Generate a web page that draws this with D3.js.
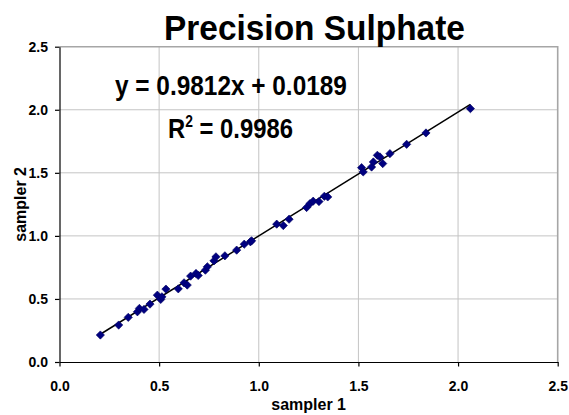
<!DOCTYPE html>
<html>
<head>
<meta charset="utf-8">
<script src="https://cdn.jsdelivr.net/npm/d3@7"></script>
<style>
  body { margin: 0; background: #fff; }
  svg { display: block; }
  text { font-family: "Liberation Sans", Arial, Helvetica, sans-serif; font-weight: bold; fill: #000; }
</style>
</head>
<body>
<svg id="chart" width="569" height="415"></svg>
<script>
// Paired sulphate readings from the two samplers
const sampler1 = [0.205, 0.297, 0.345, 0.391, 0.401, 0.424, 0.454, 0.491, 0.508, 0.514,
                  0.534, 0.596, 0.625, 0.641, 0.658, 0.685, 0.696, 0.732, 0.742, 0.775,
                  0.785, 0.830, 0.889, 0.927, 0.958, 0.964, 1.090, 1.123, 1.152, 1.240,
                  1.257, 1.273, 1.302, 1.329, 1.346, 1.516, 1.524, 1.566, 1.575, 1.595,
                  1.608, 1.622, 1.658, 1.742, 1.839, 2.062];
const sampler2 = [0.214, 0.293, 0.354, 0.398, 0.425, 0.417, 0.459, 0.530, 0.496, 0.517,
                  0.578, 0.580, 0.628, 0.610, 0.681, 0.702, 0.686, 0.728, 0.755, 0.802,
                  0.834, 0.842, 0.887, 0.934, 0.953, 0.961, 1.093, 1.082, 1.132, 1.225,
                  1.256, 1.275, 1.272, 1.314, 1.309, 1.541, 1.507, 1.546, 1.586, 1.639,
                  1.626, 1.573, 1.652, 1.726, 1.816, 2.009];

// Linear fit reported for the comparison
const slope = 0.9812;
const intercept = 0.0189;
const rSquared = 0.9986;

const tickValues = [0, 0.5, 1.0, 1.5, 2.0, 2.5];
const chartTitle = "Precision Sulphate";
const xTitle = "sampler 1";
const yTitle = "sampler 2";

const svg = d3.select("#chart");
svg.append("rect").attr("width", 569).attr("height", 415).attr("fill", "#fff");

const plot = { left: 59.5, right: 557.7, top: 46.7, bottom: 362 };
const x = d3.scaleLinear().domain([0, 2.5]).range([plot.left, plot.right]);
const y = d3.scaleLinear().domain([0, 2.5]).range([plot.bottom, plot.top]);
const fmt = d3.format(".1f");

// Gridlines
const grid = svg.append("g");
grid.selectAll("line.h").data(tickValues.slice(1, -1)).join("line")
  .attr("x1", plot.left).attr("x2", plot.right)
  .attr("y1", d => y(d)).attr("y2", d => y(d))
  .attr("stroke", "#c4c4c4").attr("stroke-width", 1);
grid.selectAll("line.v").data(tickValues.slice(1, -1)).join("line")
  .attr("x1", d => x(d)).attr("x2", d => x(d))
  .attr("y1", plot.top).attr("y2", plot.bottom)
  .attr("stroke", "#c4c4c4").attr("stroke-width", 1);

// Top and right frame of the plot area
svg.append("path")
  .attr("d", `M${plot.left},${y(2.5)}H${x(2.5)}V${plot.bottom}`)
  .attr("fill", "none").attr("stroke", "#a6a6a6").attr("stroke-width", 1.6);

// Axes
const yAxis = svg.append("g").attr("transform", `translate(${plot.left},0)`)
  .call(d3.axisLeft(y).tickValues(tickValues).tickFormat(fmt).tickSize(4.5).tickSizeOuter(0).tickPadding(7));
const xAxis = svg.append("g").attr("transform", `translate(0,${plot.bottom})`)
  .call(d3.axisBottom(x).tickValues(tickValues).tickFormat(fmt).tickSize(4.5).tickSizeOuter(0).tickPadding(15));
[yAxis, xAxis].forEach(g => {
  g.select(".domain").attr("stroke", "#000").attr("stroke-width", 1.2);
  g.selectAll(".tick line").attr("stroke", "#000").attr("stroke-width", 1.2);
  g.selectAll(".tick text")
    .style("font-family", "'Liberation Sans', Arial, sans-serif")
    .style("font-weight", "bold").style("font-size", "14px").attr("fill", "#000");
});

// Trendline across the observed range
const xr = d3.extent(sampler1);
svg.append("line")
  .attr("x1", x(xr[0])).attr("y1", y(slope * xr[0] + intercept))
  .attr("x2", x(xr[1])).attr("y2", y(slope * xr[1] + intercept))
  .attr("stroke", "#000").attr("stroke-width", 1.5);

// Diamond markers
const diamond = d3.symbol().type(d3.symbolSquare).size(34);
svg.append("g").selectAll("path").data(sampler1.map((v, i) => [v, sampler2[i]])).join("path")
  .attr("d", diamond)
  .attr("transform", d => `translate(${x(d[0])},${y(d[1])}) rotate(45)`)
  .attr("fill", "#000080").attr("stroke", "#000060").attr("stroke-width", 0.6);

// Fit a text element horizontally between two x positions
function fitText(sel, x0, x1, baseline) {
  const w = sel.node().getBBox().width;
  sel.attr("transform", `translate(${x0},${baseline}) scale(${(x1 - x0) / w},1)`);
}

// Title
const title = svg.append("text").attr("x", 0).attr("y", 0)
  .style("font-size", "35px").text(chartTitle);
fitText(title, 164, 465, 39.5);

// Regression equation and R²
const eq = svg.append("text").attr("x", 0).attr("y", 0)
  .style("font-size", "27.5px")
  .text(`y = ${slope}x + ${intercept}`);
fitText(eq, 115, 347, 95);

const r2 = svg.append("text").attr("x", 0).attr("y", 0).style("font-size", "27.5px");
r2.append("tspan").text("R");
r2.append("tspan").attr("dy", -11.6).style("font-size", "16px").text("2");
r2.append("tspan").attr("dy", 11.6).text(` = ${rSquared}`);
fitText(r2, 168, 293, 138.3);

// Axis titles
svg.append("text")
  .attr("x", (plot.left + plot.right) / 2).attr("y", 410)
  .attr("text-anchor", "middle").style("font-size", "16px").text(xTitle);
svg.append("text")
  .attr("transform", `translate(26,${(plot.top + plot.bottom) / 2}) rotate(-90)`)
  .attr("text-anchor", "middle").style("font-size", "16px").text(yTitle);
</script>
</body>
</html>
